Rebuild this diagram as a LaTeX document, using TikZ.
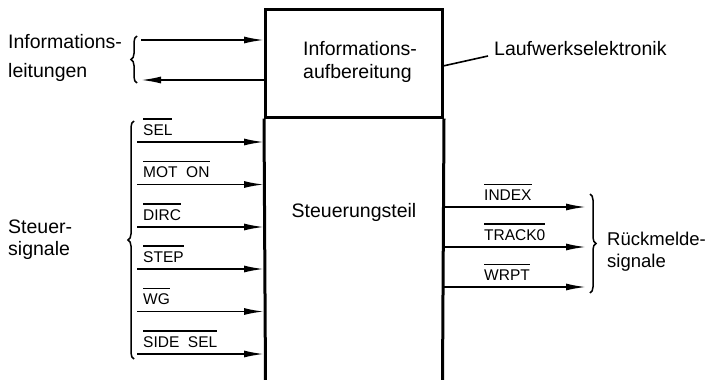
\documentclass[tikz,border=0pt]{standalone}
\usepackage{fontspec}
\setmainfont{Liberation Sans}
\usetikzlibrary{arrows.meta,decorations.pathreplacing}
\newcommand{\ovl}[1]{\vbox{\hrule height 1.2pt\vskip 4.5pt\hbox{#1}}}
\begin{document}
\begin{tikzpicture}[x=1pt,y=-1pt,
  big/.style={font=\fontsize{19.5}{23}\selectfont, inner sep=0pt, align=left},
  sig/.style={font=\fontsize{15.5}{18}\selectfont, inner sep=0pt, anchor=base west},
  arr/.style={line width=1.7pt, -{Latex[length=20pt,width=7pt]}},
  frame/.style={line width=3pt},
  brc/.style={line width=1.5pt, decorate, decoration={brace, amplitude=6pt, aspect=0.5}}]
\useasboundingbox (0,0) rectangle (712,380);
% box
\node[draw, frame, minimum width=177pt, minimum height=108pt, inner sep=0pt] (info) at (354,63) {};
\coordinate (bl) at (265.5,382);
\coordinate (br) at (442.5,382);
\draw[frame] (info.south west) -- (bl);
\draw[frame] (info.south east) -- (br);
\node[big, anchor=base west, font=\fontsize{19.5}{23}\selectfont] (infotxt) at (303,78) {Informations-\\aufbereitung};
\node[big, anchor=base] (steuertxt) at (354,217) {Steuerungsteil};
% Laufwerkselektronik
\node[big, anchor=base west] (lauf) at (494,55) {Laufwerkselektronik};
\coordinate (laufa) at (443,66);
\coordinate (laufb) at (488,56);
\draw[line width=1.6pt] (laufa) -- (laufb);
% Informationsleitungen
\node[big, anchor=base west, font=\fontsize{19.5}{29}\selectfont] (ileit) at (8,77) {Informations-\\leitungen};
\coordinate (i1) at (141,40);
\coordinate (i2) at (141,80);
\draw[arr] (i1) -- (i1 -| info.west);
\draw[arr] (i2 -| info.west) -- (i2);
\draw[brc] (137,83) -- (137,36);
% Steuersignale
\node[big, anchor=base west, font=\fontsize{19.5}{22}\selectfont] (steuer) at (8,255) {Steuer-\\signale};
\foreach \y/\t/\n in {142/SEL/s1, 184.5/MOT\ \ ON/s2, 227/DIRC/s3, 269/STEP/s4, 311.5/WG/s5, 354/SIDE\ \ SEL/s6}{
  \coordinate (\n) at (137,\y);
  \node[sig] (\n l) at (143,\y-7) {\ovl{\t}};
  \draw[arr] (\n) -- (\n -| info.west);
}
\draw[brc] (134,359) -- (134,121);
% Rueckmeldesignale
\foreach \y/\t/\n in {207/INDEX/r1, 247/TRACK0/r2, 287/WRPT/r3}{
  \coordinate (\n) at (586,\y);
  \node[sig] (\n l) at (484,\y-7) {\ovl{\t}};
  \draw[arr] (\n -| info.east) -- (\n);
}
\draw[brc] (590,194) -- (590,293);
\node[big, anchor=base west, font=\fontsize{18.5}{22}\selectfont] (rueck) at (607,267) {Rückmelde-\\signale};
\end{tikzpicture}
\end{document}
